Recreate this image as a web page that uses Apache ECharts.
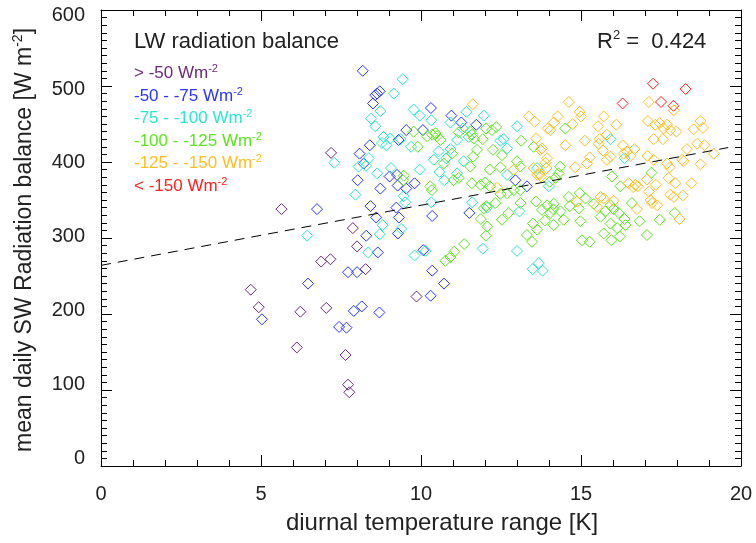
<!DOCTYPE html>
<html>
<head>
<meta charset="utf-8">
<script src="https://cdn.jsdelivr.net/npm/echarts@6/dist/echarts.min.js"></script>
<style>
html,body{margin:0;padding:0;background:#fff;}
#chart{width:756px;height:543px;}
</style>
</head>
<body>
<div id="chart"></div>
<script>
// ---- data (x: diurnal temperature range [K], y: mean daily SW radiation balance [W m-2]) ----
var purplePts = [[5.64,338],[7.19,412],[7.87,313],[8.0,289],[6.88,269],[7.17,272],[8.27,259],[4.68,232],[4.93,209],[6.23,203],[7.04,208],[6.12,156],[7.64,146],[7.72,107],[7.76,97],[9.86,223]];

var bluePts = [[6.75,338],[7.72,255],[8.0,255],[6.47,240],[5.03,193],[7.9,204],[7.44,183],[7.67,182],[8.42,342],[9.23,340],[8.6,327],[9.31,327],[10.35,329],[11.51,333],[8.29,303],[9.28,306],[8.65,281],[10.07,284],[10.35,257],[10.72,240],[10.3,224],[8.15,210],[8.7,202],[8.18,520],[8.63,490],[8.71,493],[8.57,488],[8.5,477],[10.31,471],[10.95,461],[11.26,452],[11.73,449],[9.54,442],[10.06,442],[8.4,422],[9.3,429],[8.08,411],[8.21,398],[8.02,376],[8.73,365],[9.02,381],[9.25,383],[9.27,369],[9.54,365],[9.8,372],[12.95,376],[13.31,368]];

var cyanPts = [[6.44,303],[9.51,347],[10.32,347],[11.6,347],[8.8,317],[8.71,305],[9.38,312],[8.35,281],[9.8,277],[10.14,283],[11.93,286],[13.0,283],[13.49,259],[13.68,267],[13.8,257],[12.07,340],[13.08,335],[7.29,399],[7.95,357],[9.43,509],[9.15,490],[8.73,467],[8.44,457],[8.57,447],[9.77,469],[9.96,461],[10.32,455],[10.92,452],[11.42,466],[11.96,461],[8.83,433],[9.04,431],[8.78,425],[8.92,422],[9.36,430],[9.69,420],[10.55,414],[10.4,403],[10.92,417],[11.13,429],[11.31,444],[11.49,433],[10.79,405],[10.58,387],[10.73,376],[11.13,385],[11.33,401],[9.96,390],[9.06,392],[8.37,405],[8.28,395],[8.05,394],[8.63,385],[9.46,355],[12.48,428],[12.58,430],[12.69,418],[13.0,447],[12.69,383],[13.63,392],[13.99,368],[15.92,430],[16.36,405]];

var greenPts = [[10.76,270],[10.92,275],[11.04,282],[11.35,292],[11.87,325],[12.07,315],[12.03,303],[12.32,346],[11.96,339],[9.77,440],[9.9,420],[10.19,434],[10.35,436],[10.45,438],[10.5,434],[10.61,429],[11.18,439],[11.54,440],[11.59,436],[11.65,431],[11.93,430],[12.03,444],[12.22,442],[12.35,446],[12.25,416],[12.53,409],[12.48,393],[12.15,390],[11.75,416],[11.63,407],[10.97,411],[10.71,398],[11.54,394],[11.18,379],[11.02,376],[10.29,368],[10.34,363],[9.46,382],[9.44,376],[11.59,372],[11.86,370],[12.01,373],[12.15,368],[12.69,359],[12.48,358],[12.04,342],
[14.51,444],[13.13,428],[13.52,420],[13.0,401],[13.1,394],[14.35,394],[14.3,385],[14.2,379],[14.02,374],[13.1,363],[12.9,363],[14.62,354],[14.96,359],[15.14,352],[16.23,368],[15.97,381],[17.2,386],[13.6,348],
[13.11,346],[12.74,333],[12.53,324],[13.94,343],[13.78,337],[14.13,338],[14.36,335],[14.46,324],[14.15,317],[13.87,323],[13.5,319],[13.63,311],[13.31,304],[13.47,295],[14.93,339],[14.98,322],[15.03,297],[15.27,295],[15.4,345],[15.61,328],[15.92,319],[15.71,306],[15.95,297],[16.21,302],[16.13,313],[16.39,317],[16.02,338],[16.18,333],[15.76,335],[15.92,343],[16.59,346],[16.83,322],[17.06,304],[17.46,324],[17.93,333],[14.04,333],[14.15,345],[14.65,342],[16.36,325]];

var orangePts = [[11.62,476],[12.38,366],[12.9,390],[14.62,479],[17.12,479],[17.9,468],[13.37,460],[13.55,453],[14.27,460],[14.15,452],[14.96,466],[15.0,460],[14.74,450],[13.96,444],[14.04,442],[15.53,447],[15.71,460],[16.1,449],[17.09,454],[17.32,449],[17.46,451],[17.69,449],[17.58,444],[17.79,442],[17.98,440],[17.27,430],[17.56,430],[18.52,443],[18.73,454],[18.81,445],[18.63,424],[18.86,422],[19.15,411],[18.73,397],[18.31,417],[18.16,403],[18.21,401],[13.6,431],[13.78,418],[13.73,416],[14.51,422],[15.12,428],[15.58,430],[15.81,436],[15.55,424],[15.69,415],[15.27,406],[15.19,398],[14.82,393],[13.94,405],[13.89,399],[13.92,392],[13.71,384],[13.75,381],[15.81,403],[15.92,407],[16.31,422],[16.44,414],[16.67,417],[16.54,408],[16.33,411],[17.08,408],[17.27,403],[17.69,398],[17.77,393],[17.06,377],[16.49,372],[16.7,370],[16.77,368],[16.63,367],[17.34,370],[17.74,379],[17.95,372],[18.45,372],[17.12,361],[17.17,350],[17.22,346],[17.38,343],[17.79,357],[17.9,354],[18.18,356],[18.08,325],[16.75,338],[15.71,352],[15.61,354],[16.02,349],[15.5,341],[14.88,348],[13.52,392],[13.63,383]];

var redPts = [[17.25,503],[18.27,496],[16.3,477],[17.5,479],[17.89,474]];

// regression line end points
var fitLine = [[0,264],[19.6,419]];
var r2Text = '0.424';

var classLabels = ['> -50 Wm', '-50 - -75 Wm', '-75 - -100 Wm', '-100 - -125 Wm', '-125 - -150 Wm', '< -150 Wm'];
var classColors = ['#6a2a78', '#2a35ff', '#2ae6d2', '#5ee61e', '#ffbf1e', '#ff2020'];
var classData = [purplePts, bluePts, cyanPts, greenPts, orangePts, redPts];

// y tick labels and their small vertical nudges seen in the picture (px, + = down)
var yTickValues = [0, 100, 200, 300, 400, 500, 600];
var yLabelNudge = [-8, -6, -4, -2, 0, 3, 5];

var FONT = '"Liberation Sans", Arial, Helvetica, sans-serif';
var chart = echarts.init(document.getElementById('chart'), null, {renderer: 'canvas'});

function axisCommon(extra) {
  var base = {
    type: 'value',
    axisLine: {show: true, onZero: false, lineStyle: {color: '#000', width: 1}},
    axisTick: {show: true, inside: true, length: 11, lineStyle: {color: '#000', width: 1}},
    minorTick: {show: true, length: 6, lineStyle: {color: '#000', width: 1}},
    splitLine: {show: false},
    minorSplitLine: {show: false}
  };
  for (var k in extra) base[k] = extra[k];
  return base;
}

var yRich = {};
yTickValues.forEach(function (v, i) {
  var d = yLabelNudge[i];
  yRich['t' + v] = {
    fontSize: 20, fontFamily: FONT, color: '#222',
    padding: d >= 0 ? [2 * d, 0, 0, 0] : [0, 0, -2 * d, 0]
  };
});

var series = classData.map(function (pts, i) {
  return {
    type: 'scatter',
    data: pts,
    symbol: 'diamond',
    symbolSize: 11,
    itemStyle: {color: 'rgba(0,0,0,0)', borderColor: classColors[i], borderWidth: 1, opacity: 1},
    emphasis: {disabled: true},
    z: 2
  };
});
series.push({
  type: 'line',
  data: fitLine,
  symbol: 'none',
  lineStyle: {color: '#000', width: 1, type: [10, 7]},
  z: 3,
  silent: true
});

var graphics = [
  {type: 'text', x: 134, y: 42, style: {text: 'LW radiation balance', font: '22px ' + FONT, fill: '#222', align: 'left', verticalAlign: 'middle', textAlign: 'left', textVerticalAlign: 'middle'}},
  {type: 'text', x: 597, y: 42, style: {
    text: '{a|R}{s|2}{a| =  ' + r2Text + '}',
    align: 'left', verticalAlign: 'middle', textAlign: 'left', textVerticalAlign: 'middle',
    rich: {
      a: {fontSize: 22, fontFamily: FONT, fill: '#222', color: '#222', lineHeight: 26},
      s: {fontSize: 13, fontFamily: FONT, fill: '#222', color: '#222', verticalAlign: 'top', lineHeight: 14}
    }
  }},
  {type: 'text', x: 25, y: 240, rotation: Math.PI / 2, style: {
    text: '{a|mean daily SW Radiation balance [W m}{s|-2}{a|]}',
    align: 'center', verticalAlign: 'middle', textAlign: 'center', textVerticalAlign: 'middle',
    rich: {
      a: {fontSize: 23, fontFamily: FONT, fill: '#222', color: '#222', lineHeight: 28},
      s: {fontSize: 14, fontFamily: FONT, fill: '#222', color: '#222', verticalAlign: 'top', lineHeight: 14}
    }
  }},
  {type: 'text', x: 442, y: 523, style: {text: 'diurnal temperature range [K]', font: '24px ' + FONT, fill: '#222', align: 'center', verticalAlign: 'middle', textAlign: 'center', textVerticalAlign: 'middle'}}
];
var legendY = [73, 96, 118, 141, 163, 186];
classLabels.forEach(function (lab, i) {
  graphics.push({type: 'text', x: 134, y: legendY[i], style: {
    text: '{a|' + lab + '}{s|-2}',
    align: 'left', verticalAlign: 'middle', textAlign: 'left', textVerticalAlign: 'middle',
    rich: {
      a: {fontSize: 17, fontFamily: FONT, fill: classColors[i], color: classColors[i], lineHeight: 20},
      s: {fontSize: 11, fontFamily: FONT, fill: classColors[i], color: classColors[i], verticalAlign: 'top', lineHeight: 11}
    }
  }});
});

var option = {
  animation: false,
  backgroundColor: '#fff',
  grid: {left: 101, right: 15, top: 10, bottom: 77, containLabel: false},
  xAxis: [
    axisCommon({position: 'bottom', min: 0, max: 20, interval: 5, minorTick: {show: true, splitNumber: 5, length: 6, lineStyle: {color: '#000', width: 1}},
      axisLabel: {show: true, margin: 18, fontSize: 20, fontFamily: FONT, color: '#222'}}),
    axisCommon({position: 'top', min: 0, max: 20, interval: 5, minorTick: {show: true, splitNumber: 5, length: 6, lineStyle: {color: '#000', width: 1}},
      axisLabel: {show: false}})
  ],
  yAxis: [
    axisCommon({position: 'left', min: 0, max: 600, interval: 100, minorTick: {show: true, splitNumber: 10, length: 6, lineStyle: {color: '#000', width: 1}},
      axisLabel: {show: true, margin: 16, fontSize: 20, fontFamily: FONT, color: '#222',
        formatter: function (v) { return '{t' + v + '|' + v + '}'; }, rich: yRich}}),
    axisCommon({position: 'right', min: 0, max: 600, interval: 100, minorTick: {show: true, splitNumber: 10, length: 6, lineStyle: {color: '#000', width: 1}},
      axisLabel: {show: false}})
  ],
  series: series,
  graphic: graphics
};
chart.setOption(option);
</script>
</body>
</html>
